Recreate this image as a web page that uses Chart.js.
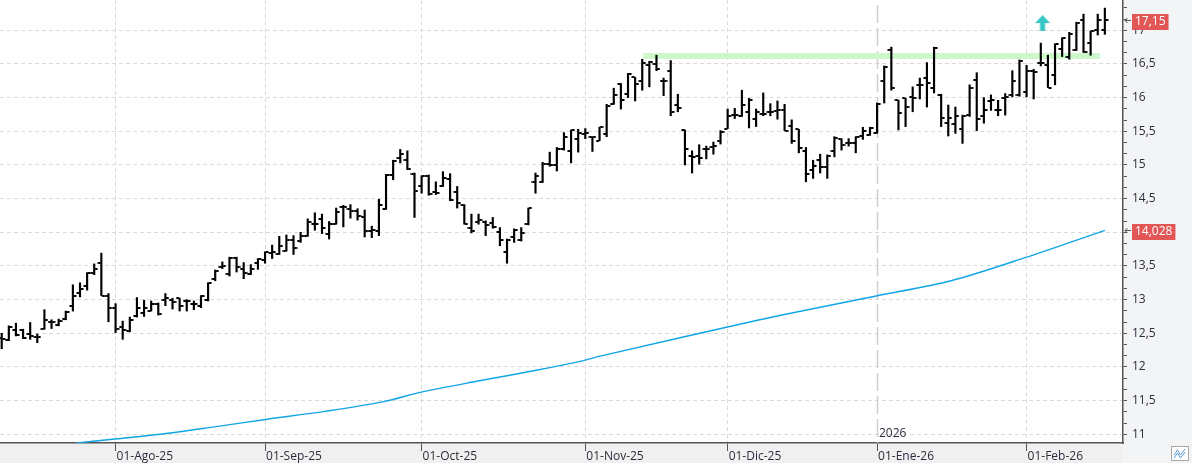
<!DOCTYPE html>
<html>
<head>
<meta charset="utf-8">
<script src="https://cdn.jsdelivr.net/npm/chart.js@4.4.1/dist/chart.umd.min.js"></script>
<style>
  html, body { margin: 0; padding: 0; background: #fff; }
  canvas { display: block; }
</style>
</head>
<body>
<canvas id="chart" width="1192" height="463"></canvas>
<script>
// Daily bars, one per trading day (index 0 = 10-Jul-25 ... 155 = 17-Feb-26)
const opens = [
  12.43, 12.40, 12.55, 12.55, 12.49, 12.45, 12.56, 12.67, 12.63, 12.71,
  12.90, 13.10, 13.20, 13.40, 13.54, 13.05, 12.87, 12.59, 12.53, 12.75,
  12.80, 12.83, 12.94, 12.99, 13.00, 13.02, 12.98, 12.93, 12.91, 13.00,
  13.30, 13.48, 13.38, 13.62, 13.46, 13.38, 13.55, 13.59, 13.69, 13.67,
  13.72, 13.88, 13.87, 13.94, 14.12, 14.19, 13.98, 14.12, 14.37, 14.34,
  14.32, 14.23, 14.02, 14.02, 14.35, 14.85, 15.10, 15.08, 14.87, 14.68,
  14.84, 14.60, 14.69, 14.79, 14.60, 14.40, 14.07, 14.16, 14.16, 14.14,
  14.01, 13.71, 13.93, 13.88, 14.12, 14.74, 14.74, 15.01, 15.00, 15.23,
  15.21, 15.39, 15.46, 15.42, 15.36, 15.46, 15.91, 16.20, 16.06, 16.30,
  16.25, 16.48, 16.50, 16.24, 16.40, 15.89, 15.52, 15.13, 15.13, 15.23,
  15.27, 15.35, 15.54, 15.74, 15.72, 15.79, 15.68, 15.76, 15.78, 15.80,
  15.81, 15.58, 15.53, 15.20, 14.92, 15.08, 14.97, 15.20, 15.38, 15.33,
  15.33, 15.43, 15.45, 15.48, 16.24, 16.70, 15.96, 15.99, 16.01, 16.19,
  16.29, 16.14, 16.04, 15.62, 15.61, 15.53, 15.74, 16.26, 15.72, 15.95,
  15.82, 15.99, 16.04, 16.04, 16.09, 16.40, 16.51, 16.48, 16.34, 16.72,
  16.60, 16.71, 17.15, 16.81, 17.01, 17.01
];
const highs = [
  12.50, 12.61, 12.65, 12.56, 12.66, 12.49, 12.85, 12.70, 12.71, 12.83,
  13.22, 13.25, 13.40, 13.53, 13.69, 13.09, 12.94, 12.68, 12.74, 13.03,
  12.99, 12.98, 12.95, 13.09, 13.02, 13.02, 13.00, 12.98, 13.06, 13.25,
  13.44, 13.56, 13.63, 13.63, 13.55, 13.52, 13.61, 13.71, 13.81, 13.94,
  13.96, 13.95, 14.00, 14.20, 14.29, 14.27, 14.16, 14.36, 14.40, 14.41,
  14.35, 14.33, 14.09, 14.49, 14.86, 15.07, 15.23, 15.21, 14.88, 14.84,
  14.85, 14.75, 14.90, 14.87, 14.68, 14.41, 14.27, 14.27, 14.17, 14.22,
  14.07, 13.90, 14.05, 14.07, 14.36, 14.88, 15.04, 15.19, 15.26, 15.48,
  15.52, 15.53, 15.54, 15.42, 15.56, 15.90, 16.14, 16.21, 16.36, 16.30,
  16.57, 16.54, 16.63, 16.29, 16.55, 16.05, 15.52, 15.21, 15.30, 15.28,
  15.34, 15.51, 15.83, 15.84, 16.11, 15.99, 15.83, 16.07, 15.91, 15.95,
  15.90, 15.67, 15.53, 15.26, 15.07, 15.16, 15.15, 15.42, 15.39, 15.39,
  15.42, 15.56, 15.56, 15.92, 16.47, 16.75, 15.96, 15.99, 16.16, 16.29,
  16.52, 16.75, 16.05, 15.89, 15.86, 15.74, 16.19, 16.37, 16.00, 16.04,
  15.96, 16.06, 16.40, 16.56, 16.48, 16.42, 16.81, 16.63, 16.80, 16.89,
  16.97, 17.12, 17.24, 16.99, 17.24, 17.33
];
const lows = [
  12.27, 12.39, 12.46, 12.42, 12.41, 12.36, 12.56, 12.57, 12.61, 12.70,
  12.83, 13.04, 13.14, 13.37, 13.06, 12.67, 12.51, 12.41, 12.52, 12.74,
  12.75, 12.83, 12.77, 12.91, 12.86, 12.83, 12.83, 12.85, 12.88, 12.98,
  13.28, 13.46, 13.35, 13.41, 13.31, 13.37, 13.45, 13.54, 13.61, 13.67,
  13.72, 13.67, 13.85, 13.94, 14.03, 13.98, 13.90, 14.12, 14.08, 14.21,
  14.18, 13.93, 13.92, 13.95, 14.34, 14.78, 15.03, 14.93, 14.22, 14.58,
  14.55, 14.56, 14.68, 14.47, 14.36, 14.12, 13.99, 14.12, 13.95, 14.06,
  13.80, 13.54, 13.85, 13.87, 14.11, 14.58, 14.74, 14.98, 14.91, 15.22,
  15.03, 15.19, 15.39, 15.20, 15.36, 15.42, 15.90, 15.83, 16.00, 15.95,
  16.11, 16.16, 16.40, 16.03, 15.73, 15.79, 15.00, 14.88, 15.01, 15.09,
  15.16, 15.31, 15.54, 15.69, 15.72, 15.55, 15.57, 15.73, 15.73, 15.68,
  15.51, 15.32, 15.18, 14.75, 14.80, 14.88, 14.80, 15.12, 15.22, 15.28,
  15.18, 15.38, 15.44, 15.47, 15.92, 16.11, 15.52, 15.57, 15.79, 15.98,
  15.86, 16.07, 15.57, 15.43, 15.47, 15.32, 15.72, 15.51, 15.62, 15.81,
  15.73, 15.74, 16.01, 16.02, 16.01, 15.98, 16.47, 16.15, 16.19, 16.61,
  16.57, 16.70, 16.67, 16.63, 16.93, 16.94
];
const closes = [
  12.42, 12.60, 12.47, 12.43, 12.46, 12.45, 12.70, 12.67, 12.68, 12.82,
  13.06, 13.16, 13.39, 13.45, 13.06, 12.88, 12.57, 12.55, 12.69, 12.88,
  12.88, 12.93, 12.79, 13.02, 12.97, 12.90, 12.98, 12.93, 13.05, 13.24,
  13.43, 13.50, 13.62, 13.49, 13.40, 13.45, 13.60, 13.70, 13.70, 13.79,
  13.89, 13.76, 13.95, 14.15, 14.12, 14.07, 14.13, 14.30, 14.37, 14.31,
  14.24, 14.02, 14.04, 14.40, 14.85, 15.06, 15.17, 14.94, 14.61, 14.83,
  14.57, 14.59, 14.81, 14.48, 14.44, 14.13, 14.02, 14.18, 14.11, 14.08,
  13.88, 13.89, 14.03, 13.99, 14.36, 14.84, 15.01, 15.00, 15.24, 15.42,
  15.52, 15.48, 15.48, 15.42, 15.56, 15.87, 16.04, 15.96, 16.35, 16.20,
  16.51, 16.53, 16.43, 16.24, 15.78, 15.84, 15.23, 15.12, 15.10, 15.23,
  15.28, 15.49, 15.72, 15.74, 15.89, 15.97, 15.79, 15.76, 15.78, 15.81,
  15.51, 15.35, 15.25, 14.87, 14.99, 14.97, 15.13, 15.40, 15.30, 15.33,
  15.41, 15.50, 15.55, 15.91, 16.46, 16.14, 15.77, 15.86, 16.00, 16.19,
  16.21, 16.74, 15.69, 15.69, 15.72, 15.72, 16.14, 15.68, 15.81, 15.96,
  15.81, 16.01, 16.25, 16.55, 16.40, 16.38, 16.52, 16.15, 16.79, 16.88,
  16.95, 17.11, 16.68, 16.99, 17.15, 17.15
];

// Moving average, read at points along the line (bar index, value)
const maIndex = [10.5, 15.9, 22.3, 29.9, 37.1, 45.4, 53.5, 59.1, 66.9, 75.1, 81.6, 84.1, 106.5, 122.7, 133.4, 144, 155];
const maValue = [10.87, 10.93, 11.00, 11.11, 11.22, 11.34, 11.48, 11.63, 11.79, 11.95, 12.09, 12.16, 12.70, 13.05, 13.28, 13.63, 14.028];

// Month ticks on the time axis
const monthIndex = [16, 37, 59, 82, 102, 123, 144];
const monthLabels = ['01-Ago-25', '01-Sep-25', '01-Oct-25', '01-Nov-25', '01-Dic-25', '01-Ene-26', '01-Feb-26'];

// Resistance band, buy signal, year marker, last values
const resistanceLevel = 16.62;
const resistanceSpan = [90.15, 154.3];
const signalAt = [146.24, 17.108];
const yearIndex = 123;
const yearText = '2026';
const lastClose = 17.15;
const lastMa = 14.028;

const X_MIN = -0.24, X_MAX = 157.55;
const Y_MIN = 10.87, Y_MAX = 17.45;

Chart.defaults.font.family = "'Open Sans', 'Noto Sans', sans-serif";
Chart.defaults.font.size = 12;
Chart.defaults.color = '#2c2c3c';

// small images used as point styles for the open / close ticks and the arrow
function tickImage(side) {
    const c = document.createElement('canvas');
    c.width = 8; c.height = 2;
    const g = c.getContext('2d');
    g.fillStyle = '#000';
    g.fillRect(side < 0 ? 0.5 : 4.5, 0, 3, 2);
    return c;
}
function arrowImage() {
    const c = document.createElement('canvas');
    c.width = 16; c.height = 16;
    const g = c.getContext('2d');
    g.fillStyle = '#36c6c6';
    g.beginPath();
    g.moveTo(8, 0); g.lineTo(15.5, 8); g.lineTo(0.5, 8); g.closePath();
    g.fill();
    g.fillRect(5.5, 8, 5, 8);
    return c;
}

const idx = opens.map((_, i) => i);

const chrome = {
    id: 'chrome',
    beforeDraw(chart) {
        const { ctx, chartArea: a, width, height } = chart;
        ctx.save();
        ctx.fillStyle = '#ffffff';
        ctx.fillRect(0, 0, width, height);
        ctx.fillStyle = '#f0f0f0';
        ctx.fillRect(0, a.bottom, a.right, height - a.bottom);
        ctx.fillStyle = '#f3f4f6';
        ctx.fillRect(a.right, 0, width - a.right, height);
        ctx.restore();
    },
    beforeDatasetsDraw(chart) {
        const { ctx, chartArea: a, scales } = chart;
        const x = Math.round(scales.x.getPixelForValue(yearIndex)) + 0.5;
        ctx.save();
        ctx.strokeStyle = '#cfcfcf';
        ctx.lineWidth = 1.5;
        ctx.setLineDash([18, 5]);
        ctx.beginPath();
        ctx.moveTo(x, a.top + 5);
        ctx.lineTo(x, a.bottom);
        ctx.stroke();
        ctx.setLineDash([]);
        ctx.fillStyle = '#2c2c3c';
        ctx.textBaseline = 'middle';
        ctx.fillText(yearText, x + 1.5, a.bottom - 9);
        ctx.restore();
    },
    afterDraw(chart) {
        const { ctx, chartArea: a, scales } = chart;
        ctx.save();
        ctx.font = "12px 'Open Sans', 'Noto Sans', sans-serif";
        ctx.textBaseline = 'middle';
        for (const v of [lastClose, lastMa]) {
            const y = Math.round(scales.y.getPixelForValue(v));
            const txt = String(v).replace('.', ',');
            const w = ctx.measureText(txt).width + 6;
            ctx.fillStyle = '#e25656';
            ctx.fillRect(a.right + 9, y - 6, w, 16);
            ctx.fillStyle = '#ffffff';
            ctx.fillText(txt, a.right + 12, y + 2);
            // little arrow pointing at the axis
            ctx.strokeStyle = '#555';
            ctx.lineWidth = 1;
            ctx.beginPath();
            ctx.moveTo(a.right + 2, y + 0.5); ctx.lineTo(a.right + 8, y + 0.5);
            ctx.moveTo(a.right + 4.5, y - 2); ctx.lineTo(a.right + 2, y + 0.5); ctx.lineTo(a.right + 4.5, y + 3);
            ctx.stroke();
        }
        // corner icon
        ctx.fillStyle = '#ffffff';
        ctx.strokeStyle = '#a8a8a8';
        ctx.fillRect(1171, 446, 18, 15);
        ctx.strokeRect(1171.5, 446.5, 17, 14);
        ctx.strokeStyle = '#5a9bd8';
        ctx.beginPath();
        ctx.moveTo(1174, 455); ctx.lineTo(1177.5, 450); ctx.lineTo(1180.5, 455); ctx.lineTo(1185, 449);
        ctx.moveTo(1174, 458); ctx.lineTo(1177.5, 453); ctx.lineTo(1180.5, 458); ctx.lineTo(1185, 452);
        ctx.stroke();
        ctx.restore();
    }
};

const isMajor = v => Math.abs(v * 2 - Math.round(v * 2)) < 1e-6;

new Chart(document.getElementById('chart'), {
    type: 'bar',
    data: {
        datasets: [
            {
                type: 'line',
                data: resistanceSpan.map(x => ({ x, y: resistanceLevel })),
                borderColor: '#ccf8cc',
                borderWidth: 6,
                borderCapStyle: 'butt',
                pointRadius: 0,
                order: 6,
            },
            {
                type: 'line',
                data: maIndex.map((x, i) => ({ x, y: maValue[i] })),
                borderColor: '#12a6e6',
                borderWidth: 1.4,
                pointRadius: 0,
                tension: 0.3,
                order: 5,
            },
            {
                type: 'bar',
                data: idx.map(i => ({ x: i, y: [lows[i], highs[i]] })),
                backgroundColor: '#000',
                barThickness: 1.5,
                borderWidth: 0,
                order: 3,
            },
            {
                type: 'scatter',
                data: idx.map(i => ({ x: i, y: opens[i] })),
                pointStyle: tickImage(-1),
                pointRadius: 4,
                order: 2,
            },
            {
                type: 'scatter',
                data: idx.map(i => ({ x: i, y: closes[i] })),
                pointStyle: tickImage(1),
                pointRadius: 4,
                order: 2,
            },
            {
                type: 'scatter',
                data: [{ x: signalAt[0], y: signalAt[1] }],
                pointStyle: arrowImage(),
                pointRadius: 8,
                order: 1,
            },
        ],
    },
    options: {
        responsive: false,
        animation: false,
        devicePixelRatio: 1,
        layout: { padding: 0, autoPadding: false },
        plugins: { legend: { display: false }, tooltip: { enabled: false } },
        scales: {
            x: {
                type: 'linear',
                min: X_MIN,
                max: X_MAX,
                offset: false,
                afterBuildTicks: axis => { axis.ticks = monthIndex.map(value => ({ value })); },
                afterFit: axis => {
                    axis.height = 20;
                    axis.paddingLeft = 0; axis.paddingRight = 0;
                },
                ticks: {
                    autoSkip: false,
                    maxRotation: 0,
                    align: 'start',
                    labelOffset: 1,
                    padding: -2,
                    callback: v => monthLabels[monthIndex.indexOf(v)] ?? '',
                },
                grid: {
                    offset: false,
                    color: c => (c.tick && c.tick.value === yearIndex ? 'rgba(0,0,0,0)' : '#dadada'),
                    lineWidth: 1,
                    tickLength: 8,
                    tickColor: '#555',
                    tickWidth: 1,
                },
                border: { display: true, color: '#555', width: 1.5, dash: [4, 3] },
            },
            y: {
                position: 'right',
                min: Y_MIN,
                max: Y_MAX,
                afterBuildTicks: axis => {
                    const t = [];
                    for (let k = Math.ceil(Y_MIN * 6); k <= Math.floor(Y_MAX * 6); k++) t.push({ value: k / 6 });
                    axis.ticks = t;
                },
                afterFit: axis => {
                    axis.width = 69;
                    axis.paddingTop = 0; axis.paddingBottom = 0;
                },
                ticks: {
                    autoSkip: false,
                    padding: 5,
                    callback: v => (isMajor(v) ? String(+v.toFixed(1)).replace('.', ',') : ''),
                },
                grid: {
                    color: c => (c.tick && isMajor(c.tick.value) ? '#dadada' : 'rgba(0,0,0,0)'),
                    lineWidth: 1,
                    tickLength: 4,
                    tickColor: '#555',
                    tickWidth: 1,
                },
                border: { display: true, color: '#555', width: 1.5, dash: [4, 3] },
            },
        },
    },
    plugins: [chrome],
});
</script>
</body>
</html>
